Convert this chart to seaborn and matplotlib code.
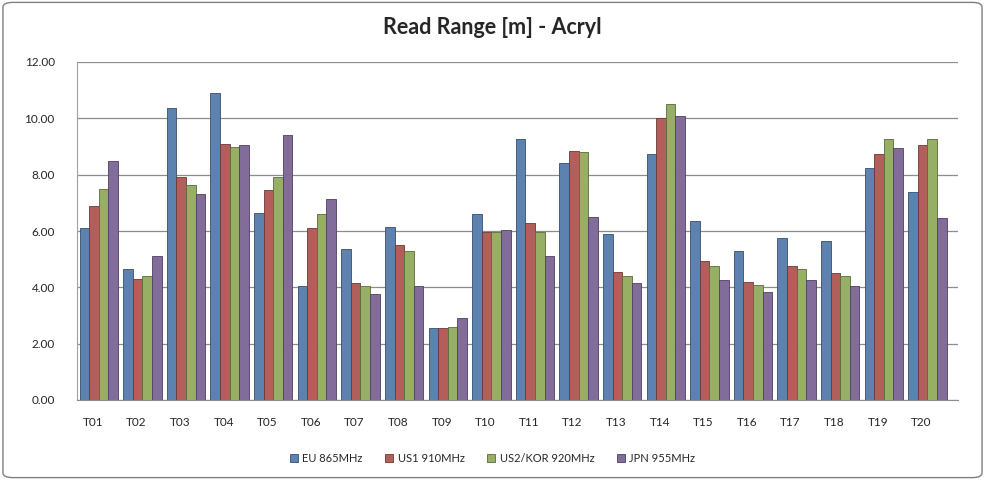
import pandas as pd
import matplotlib
matplotlib.use("Agg")
import matplotlib.pyplot as plt
import matplotlib.transforms as mtransforms
import seaborn as sns
from matplotlib.patches import FancyBboxPatch

# === Data ===
tags = [f"T{i:02d}" for i in range(1, 21)]
series = ["EU 865MHz", "US1 910MHz", "US2/KOR 920MHz", "JPN 955MHz"]

eu = [6.10, 4.65, 10.35, 10.90, 6.65, 4.05, 5.35, 6.15, 2.55, 6.60,
      9.25, 8.40, 5.90, 8.75, 6.35, 5.30, 5.75, 5.65, 8.25, 7.40]
us1 = [6.90, 4.30, 7.90, 9.10, 7.45, 6.10, 4.15, 5.50, 2.55, 5.95,
       6.30, 8.85, 4.55, 10.00, 4.95, 4.20, 4.75, 4.50, 8.75, 9.05]
us2 = [7.50, 4.40, 7.65, 9.00, 7.90, 6.60, 4.05, 5.30, 2.60, 5.95,
       5.95, 8.80, 4.40, 10.50, 4.75, 4.10, 4.65, 4.40, 9.25, 9.25]
jpn = [8.50, 5.10, 7.30, 9.05, 9.40, 7.15, 3.75, 4.05, 2.90, 6.05,
       5.10, 6.50, 4.15, 10.10, 4.25, 3.85, 4.25, 4.05, 8.95, 6.45]

colors = ["#4F81BD", "#C0504D", "#9BBB59", "#8064A2"]

df = pd.DataFrame({"Tag": tags, series[0]: eu, series[1]: us1,
                   series[2]: us2, series[3]: jpn})
df_long = df.melt(id_vars="Tag", var_name="Band", value_name="Range")

# === Plot ===
sns.set_style("white")
plt.rcParams["font.family"] = ["Lato", "DejaVu Sans"]

fig = plt.figure(figsize=(9.85, 4.8), dpi=100)
ax = fig.add_axes([77 / 985, 1 - 400 / 480, (958 - 77) / 985, (400 - 62) / 480])

sns.barplot(data=df_long, x="Tag", y="Range", hue="Band", palette=colors,
            hue_order=series, order=tags, width=0.88, linewidth=0,
            ax=ax, legend=True)

# darker outline per bar, a hint of the 3D side faces
for bar in ax.patches:
    r, g, b, a = bar.get_facecolor()
    bar.set_edgecolor((r * 0.6, g * 0.6, b * 0.6, 1))
    bar.set_linewidth(0.6)

ax.set_xlim(-0.5, 19.7)
ax.set_ylim(0, 12)
ax.set_yticks([0, 2, 4, 6, 8, 10, 12])
ax.set_yticklabels([f"{v:.2f}" for v in ax.get_yticks()], fontsize=8.5)
ax.tick_params(axis="x", labelsize=8.5, length=0, pad=12)
ax.tick_params(axis="y", length=0, pad=16)
ax.yaxis.grid(True, color="#8c8c8c", linewidth=0.9)
ax.set_axisbelow(True)
ax.set_xlabel("")
ax.set_ylabel("")
for side in ["top", "right"]:
    ax.spines[side].set_visible(False)
ax.spines["left"].set_color("#a0a0a0")
ax.spines["bottom"].set_color("#8c8c8c")

# category labels sit a little left of the bars, as in the 3D original
shift = mtransforms.ScaledTranslation(-6 / 100, 0, fig.dpi_scale_trans)
for lbl in ax.get_xticklabels():
    lbl.set_transform(lbl.get_transform() + shift)

fig.text(0.5, 1 - 28 / 480, "Read Range [m] - Acryl", ha="center", va="center",
         fontsize=15.5, fontweight="bold")

handles, labels = ax.get_legend_handles_labels()
ax.legend_.remove()
fig.legend(handles, labels, loc="center", bbox_to_anchor=(0.5, 1 - 458 / 480),
           ncol=4, frameon=False, fontsize=8, handlelength=0.75, handleheight=0.75,
           columnspacing=2.0, handletextpad=0.4)

# chart border
fig.patches.append(FancyBboxPatch((0.003, 0.005), 0.994, 0.99,
                                  boxstyle="round,pad=0,rounding_size=0.01",
                                  transform=fig.transFigure, fill=False,
                                  edgecolor="#7f7f7f", linewidth=1))

fig.savefig("out.png", dpi=100)
